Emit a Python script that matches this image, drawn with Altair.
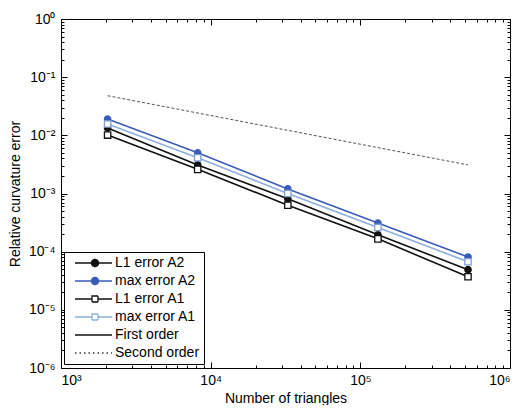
import altair as alt
import pandas as pd

# ---- data ----
n_triangles = [2048, 8192, 32768, 131072, 524288]
l1_err_a2 = [0.0134, 0.0031, 0.00081, 0.000195, 0.000049]
max_err_a2 = [0.0190, 0.0050, 0.00120, 0.000310, 0.000081]
l1_err_a1 = [0.0101, 0.0026, 0.00063, 0.000166, 0.000037]
max_err_a1 = [0.0157, 0.0041, 0.00100, 0.000260, 0.000067]
ref_n = [2048, 524288]
ref_err = [0.048, 0.0031]

series_names = ["L1 error A2", "max error A2", "L1 error A1", "max error A1"]
legend_names = series_names + ["First order", "Second order"]
x_major = [1e3, 1e4, 1e5, 1e6]
y_major = [1e-6, 1e-5, 1e-4, 1e-3, 1e-2, 1e-1, 1e0]

# ---- styling ----
line_colors = ["#111111", "#3a5cb8", "#111111", "#8eaede"]
marker_shapes = ["circle", "circle", "square", "square"]
marker_fills = ["#111111", "#3a5cb8", "#ffffff", "#ffffff"]
marker_strokes = ["#111111", "#3a5cb8", "#111111", "#7f9fd6"]

W, H = 449, 349
FONT = "Liberation Sans"

rows = []
for name, vals in zip(series_names, [l1_err_a2, max_err_a2, l1_err_a1, max_err_a1]):
    for n, v in zip(n_triangles, vals):
        rows.append({"n": n, "err": v, "series": name})
df = pd.DataFrame(rows)
ref_df = pd.DataFrame({"n": ref_n, "err": ref_err})
leg_df = pd.DataFrame({"label": legend_names})

x_minor = [m * d for d in [1e3, 1e4, 1e5] for m in range(2, 10)]
y_minor = [m * d for d in [1e-6, 1e-5, 1e-4, 1e-3, 1e-2, 1e-1] for m in range(2, 10)]
x_all = sorted(x_major + x_minor)
y_all = sorted(y_major + y_minor)

xs = alt.Scale(type="log", domain=[1e3, 1e6], nice=False)
ys = alt.Scale(type="log", domain=[1e-6, 1e0], nice=False)

sup = "['\u2070','\u00b9','\u00b2','\u00b3','\u2074','\u2075','\u2076']"
exp_ = "round(log(datum.value)/LN10)"
label_expr = f"'10' + ({exp_} < 0 ? '\u207b' : '') + {sup}[abs({exp_})]"
major_test = f"abs(log(datum.value)/LN10 - {exp_}) < 0.001"
tick_size = {"condition": {"test": major_test, "value": 6}, "value": 3}

def label_axis(orient, title, vals, **kw):
    return alt.Axis(orient=orient, values=vals, ticks=False, domain=False, grid=False,
                    labelExpr=label_expr, labelFont=FONT, labelFontSize=14,
                    labelColor="black", title=title, titleFont=FONT,
                    titleFontSize=14, titleFontWeight="normal", titleColor="black", **kw)

def tick_axis(orient, vals, offset):
    return alt.Axis(orient=orient, offset=offset, values=vals, labels=False, domain=False,
                    grid=False, title=None, tickColor="black", tickWidth=1, tickSize=tick_size)

lines = alt.Chart(df).mark_line(strokeWidth=1.6).encode(
    x=alt.X("n:Q", scale=xs, axis=label_axis("bottom", "Number of triangles", x_major,
                                             labelPadding=5, titlePadding=4)),
    y=alt.Y("err:Q", scale=ys, axis=label_axis("left", "Relative curvature error", y_major,
                                               labelPadding=6, titlePadding=6)),
    color=alt.Color("series:N", scale=alt.Scale(domain=series_names, range=line_colors), legend=None),
)

points = alt.Chart(df).mark_point(size=40, strokeWidth=1.3, opacity=1).encode(
    x=alt.X("n:Q", scale=xs, axis=tick_axis("top", x_all, -H)),
    y=alt.Y("err:Q", scale=ys, axis=tick_axis("right", y_all, -W)),
    shape=alt.Shape("series:N", scale=alt.Scale(domain=series_names, range=marker_shapes), legend=None),
    fill=alt.Fill("series:N", scale=alt.Scale(domain=series_names, range=marker_fills), legend=None),
    stroke=alt.Stroke("series:N", scale=alt.Scale(domain=series_names, range=marker_strokes), legend=None),
)

ref = alt.Chart(ref_df).mark_line(strokeWidth=1, strokeDash=[3, 2], color="#555555").encode(
    x=alt.X("n:Q", scale=xs, axis=tick_axis("bottom", x_all, -H)),
    y=alt.Y("err:Q", scale=ys, axis=tick_axis("left", y_all, -W)),
)

# legend symbols: line segment with marker in the middle (custom paths)
p_circle = "M0,0H4.1M5.9,0H9.25M4.1,0A0.9,0.9 0 1,1 5.9,0A0.9,0.9 0 1,1 4.1,0Z"
p_square = "M0,0H4.25M5.75,0H9.25M4.25,-0.75H5.75V0.75H4.25Z"
p_line = "M0,0H9.25"
leg_paths = [p_circle, p_circle, p_square, p_square, p_line, p_line]
leg_strokes = ["#111111", "#3a5cb8", "#111111", "#8eaede", "#111111", "#333333"]
leg_fills = ["#111111", "#3a5cb8", "#ffffff", "#ffffff", "transparent", "transparent"]
leg_dash = [[1, 0], [1, 0], [1, 0], [1, 0], [1, 0], [1.5, 3]]

leg = alt.Legend(title=None, orient="none", legendX=3, legendY=233, strokeColor="black",
                 fillColor="white", padding=4, rowPadding=4, labelFont=FONT, labelFontSize=14,
                 labelColor="black", labelOffset=33, symbolSize=64, symbolStrokeWidth=1.3,
                 symbolOpacity=1, labelLimit=300)

legend_layer = alt.Chart(leg_df).mark_point(opacity=0, size=64).encode(
    shape=alt.Shape("label:N", scale=alt.Scale(domain=legend_names, range=leg_paths), legend=leg),
    stroke=alt.Stroke("label:N", scale=alt.Scale(domain=legend_names, range=leg_strokes), legend=leg),
    fill=alt.Fill("label:N", scale=alt.Scale(domain=legend_names, range=leg_fills), legend=leg),
    strokeDash=alt.StrokeDash("label:N", scale=alt.Scale(domain=legend_names, range=leg_dash), legend=leg),
)

chart = alt.layer(lines, points, ref, legend_layer).resolve_scale(
    x="independent", y="independent", color="independent", shape="independent",
    fill="independent", stroke="independent", strokeDash="independent",
).resolve_axis(x="independent", y="independent").properties(
    width=W, height=H, padding={"left": 0, "top": 4, "right": 0, "bottom": 0},
    background="white",
).configure_view(stroke="black", strokeWidth=1)

chart.save("out.html", embed_options={"renderer": "svg", "actions": False})
